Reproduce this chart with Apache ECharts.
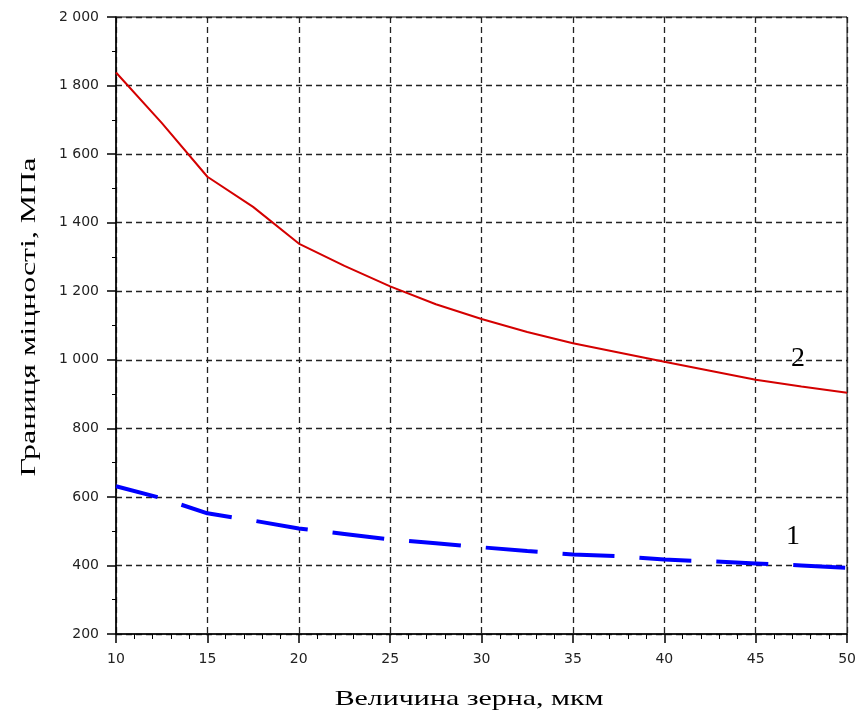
<!DOCTYPE html>
<html>
<head>
<meta charset="utf-8">
<script src="https://cdn.jsdelivr.net/npm/echarts@6/dist/echarts.min.js"></script>
<style>
html,body{margin:0;padding:0;background:#fff;}
#chart{width:859px;height:720px;}
</style>
</head>
<body>
<div id="chart"></div>
<script>
var grainSize = [10, 12.5, 15, 17.5, 20, 22.5, 25, 27.5, 30, 32.5, 35, 37.5, 40, 42.5, 45, 47.5, 50];
var strength2 = [1838, 1691, 1534, 1446, 1339, 1274, 1214, 1162, 1119, 1081, 1048, 1021, 994, 968, 942, 922, 904];
var strength1 = [631, 596, 552, 531, 508, 492, 476, 465, 453, 442, 432, 427, 417, 412, 406, 400, 393];
var xTitle = 'Величина зерна, мкм';
var yTitle = 'Границя міцності, МПа';
var curveLabels = ['1', '2'];

var chart = echarts.init(document.getElementById('chart'));
function pairs(xs, ys){ return xs.map(function(x,i){ return [x, ys[i]]; }); }
var gridLine = {show:true, lineStyle:{color:'#222', width:1.3, type:[6,4]}};
var serif = '"Liberation Serif","DejaVu Serif",serif';
var sans = '"DejaVu Sans","Liberation Sans",Arial,sans-serif';
chart.setOption({
  animation:false,
  backgroundColor:'#fff',
  grid:{left:116, right:11, top:17, bottom:86, show:true, borderColor:'#000', borderWidth:1},
  xAxis:{
    type:'value', min:10, max:50, interval:5,
    axisLine:{show:true, lineStyle:{color:'#000', width:1.5}},
    axisTick:{show:true, length:9, lineStyle:{color:'#000', width:1.5}},
    minorTick:{show:true, splitNumber:5, length:5, lineStyle:{color:'#000', width:1}},
    axisLabel:{margin:18, fontFamily:sans, fontSize:14, color:'#222'},
    splitLine:gridLine
  },
  yAxis:{
    type:'value', min:200, max:2000, interval:200,
    axisLine:{show:true, lineStyle:{color:'#000', width:1.5}},
    axisTick:{show:true, length:9, lineStyle:{color:'#000', width:1.5}},
    minorTick:{show:true, splitNumber:2, length:4, lineStyle:{color:'#000', width:1}},
    axisLabel:{margin:17, fontFamily:sans, fontSize:14, color:'#222',
      formatter:function(v){ return String(v).replace(/\B(?=(\d{3})+(?!\d))/g, ' '); }},
    splitLine:gridLine
  },
  series:[
    {type:'line', data:pairs(grainSize, strength2), showSymbol:false, symbol:'none', z:3,
     lineStyle:{color:'#d40000', width:2}},
    {type:'line', data:pairs(grainSize, strength1), showSymbol:false, symbol:'none', z:3,
     lineStyle:{color:'#0000ff', width:4, type:[52,25], dashOffset:9}}
  ],
  graphic:[
    {type:'text', x:469, y:699, scaleX:1.36,
     style:{text:xTitle, font:'22px ' + serif, fill:'#000', align:'center', verticalAlign:'middle'}},
    {type:'text', x:29, y:317, rotation:Math.PI/2, scaleX:1.45,
     style:{text:yTitle, font:'22px ' + serif, fill:'#000', align:'center', verticalAlign:'middle'}},
    {type:'text', x:793, y:537, style:{text:curveLabels[0], font:'28px ' + serif, fill:'#000', align:'center', verticalAlign:'middle'}},
    {type:'text', x:798, y:359, style:{text:curveLabels[1], font:'28px ' + serif, fill:'#000', align:'center', verticalAlign:'middle'}}
  ]
});
</script>
</body>
</html>
